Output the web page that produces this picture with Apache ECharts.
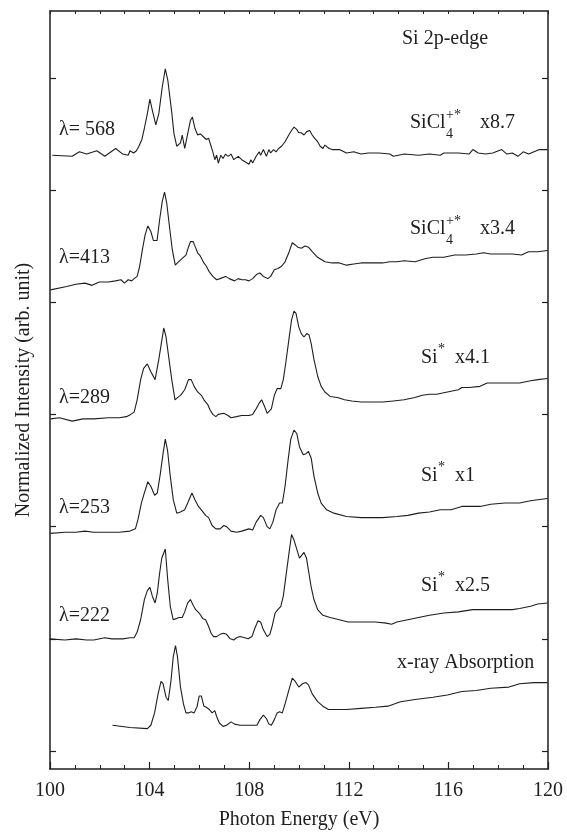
<!DOCTYPE html>
<html>
<head>
<meta charset="utf-8">
<script src="https://cdn.jsdelivr.net/npm/echarts@6/dist/echarts.min.js"></script>
<style>
  html, body { margin: 0; padding: 0; background: #fff; }
  #chart { width: 567px; height: 837px; }
</style>
</head>
<body>
<div id="chart"></div>
<script>
// spectra, [photon energy (eV), intensity (arb., offset per trace)]
const curve568 = [[100.09,5.31],[100.89,5.30],[101.18,5.34],[101.47,5.32],[101.88,5.35],[102.20,5.30],[102.64,5.37],[102.92,5.32],[103.14,5.31],[103.21,5.35],[103.36,5.33],[103.47,5.35],[103.57,5.39],[103.69,5.45],[103.79,5.55],[103.91,5.68],[104.01,5.81],[104.11,5.71],[104.25,5.58],[104.37,5.68],[104.51,5.92],[104.63,6.08],[104.73,5.98],[104.88,5.71],[104.98,5.50],[105.09,5.39],[105.24,5.42],[105.31,5.49],[105.41,5.37],[105.53,5.50],[105.64,5.62],[105.72,5.65],[105.82,5.55],[105.93,5.49],[106.04,5.50],[106.18,5.47],[106.28,5.45],[106.37,5.46],[106.47,5.39],[106.54,5.34],[106.62,5.27],[106.69,5.31],[106.76,5.24],[106.86,5.31],[106.95,5.28],[107.05,5.32],[107.15,5.30],[107.27,5.32],[107.38,5.27],[107.56,5.30],[107.70,5.27],[107.85,5.25],[107.99,5.23],[108.07,5.27],[108.14,5.24],[108.28,5.30],[108.40,5.34],[108.46,5.31],[108.57,5.36],[108.69,5.30],[108.79,5.36],[108.86,5.33],[108.98,5.36],[109.08,5.34],[109.18,5.37],[109.30,5.39],[109.44,5.43],[109.59,5.49],[109.70,5.53],[109.80,5.56],[109.91,5.54],[109.99,5.51],[110.09,5.51],[110.20,5.49],[110.31,5.52],[110.43,5.53],[110.53,5.49],[110.63,5.46],[110.75,5.43],[110.85,5.39],[110.96,5.37],[111.04,5.40],[111.12,5.41],[111.21,5.37],[111.33,5.36],[111.62,5.36],[111.91,5.33],[112.20,5.34],[112.49,5.32],[112.78,5.33],[113.21,5.33],[113.65,5.32],[113.79,5.30],[114.23,5.32],[114.80,5.31],[115.24,5.32],[115.67,5.31],[115.82,5.33],[116.40,5.33],[116.83,5.32],[116.98,5.36],[117.20,5.33],[117.49,5.32],[117.78,5.33],[118.14,5.36],[118.35,5.32],[118.57,5.33],[118.79,5.30],[119.01,5.34],[119.22,5.32],[119.44,5.34],[119.66,5.36],[119.98,5.36]];

const curve413 = [[100.02,4.11],[100.67,4.14],[101.04,4.16],[101.40,4.17],[101.69,4.15],[101.98,4.18],[102.34,4.18],[102.63,4.19],[102.85,4.20],[102.99,4.17],[103.14,4.20],[103.28,4.19],[103.38,4.21],[103.50,4.23],[103.60,4.32],[103.72,4.48],[103.82,4.60],[103.93,4.68],[104.05,4.63],[104.15,4.55],[104.30,4.55],[104.40,4.73],[104.51,4.90],[104.60,4.98],[104.69,4.88],[104.80,4.67],[104.91,4.47],[105.03,4.33],[105.16,4.36],[105.31,4.39],[105.46,4.42],[105.56,4.49],[105.64,4.54],[105.75,4.54],[105.82,4.50],[105.93,4.44],[106.04,4.41],[106.18,4.35],[106.28,4.32],[106.40,4.27],[106.54,4.23],[106.69,4.20],[106.83,4.21],[107.05,4.23],[107.20,4.21],[107.41,4.19],[107.56,4.21],[107.70,4.20],[107.85,4.20],[107.99,4.19],[108.14,4.21],[108.31,4.25],[108.43,4.26],[108.57,4.23],[108.75,4.21],[108.86,4.23],[109.01,4.29],[109.15,4.30],[109.30,4.32],[109.44,4.36],[109.59,4.44],[109.73,4.53],[109.85,4.51],[109.95,4.49],[110.09,4.48],[110.24,4.50],[110.38,4.49],[110.53,4.45],[110.75,4.40],[111.04,4.36],[111.33,4.35],[111.62,4.35],[111.91,4.33],[112.20,4.34],[112.49,4.35],[112.92,4.35],[113.36,4.35],[113.65,4.36],[113.93,4.36],[114.22,4.37],[114.66,4.36],[115.09,4.39],[115.38,4.40],[115.82,4.40],[116.25,4.42],[116.69,4.42],[117.12,4.43],[117.41,4.44],[117.70,4.43],[118.14,4.43],[118.57,4.43],[118.93,4.42],[119.22,4.45],[119.59,4.45],[119.98,4.46]];

const curve289 = [[100.02,2.96],[100.38,2.97],[100.89,2.94],[101.33,2.96],[101.76,2.96],[102.34,2.97],[102.78,2.97],[103.07,2.98],[103.24,3.00],[103.38,3.02],[103.50,3.13],[103.64,3.31],[103.76,3.41],[103.91,3.45],[104.05,3.38],[104.22,3.31],[104.37,3.49],[104.49,3.66],[104.57,3.77],[104.66,3.69],[104.78,3.49],[104.89,3.31],[105.02,3.13],[105.12,3.15],[105.24,3.17],[105.31,3.16],[105.41,3.22],[105.56,3.31],[105.67,3.31],[105.79,3.25],[105.93,3.20],[106.08,3.17],[106.18,3.13],[106.33,3.09],[106.43,3.04],[106.54,3.00],[106.66,2.98],[106.76,3.00],[106.98,3.01],[107.15,2.99],[107.27,2.97],[107.49,2.98],[107.70,2.99],[107.99,2.99],[108.14,3.00],[108.28,3.05],[108.40,3.10],[108.50,3.13],[108.60,3.08],[108.72,3.01],[108.80,3.00],[108.89,3.05],[109.01,3.17],[109.12,3.23],[109.27,3.23],[109.37,3.31],[109.47,3.46],[109.59,3.66],[109.70,3.84],[109.80,3.92],[109.88,3.90],[109.99,3.78],[110.09,3.72],[110.20,3.69],[110.31,3.72],[110.40,3.71],[110.49,3.63],[110.60,3.49],[110.75,3.34],[110.89,3.25],[111.04,3.20],[111.25,3.16],[111.54,3.15],[111.83,3.13],[112.12,3.12],[112.49,3.11],[112.92,3.11],[113.36,3.11],[113.79,3.12],[114.22,3.13],[114.66,3.15],[114.95,3.17],[115.24,3.18],[115.53,3.18],[115.96,3.20],[116.40,3.22],[116.54,3.24],[116.83,3.24],[117.27,3.25],[117.56,3.28],[117.99,3.28],[118.43,3.28],[118.86,3.28],[119.30,3.30],[119.59,3.31],[119.98,3.32]];

const curve253 = [[100.02,1.94],[100.60,1.95],[101.04,1.95],[101.40,1.96],[101.76,1.95],[102.34,1.95],[102.78,1.95],[103.21,1.96],[103.43,1.98],[103.53,2.06],[103.67,2.21],[103.79,2.30],[103.93,2.40],[104.05,2.36],[104.20,2.28],[104.31,2.30],[104.43,2.47],[104.54,2.65],[104.63,2.78],[104.72,2.68],[104.83,2.45],[104.95,2.24],[105.09,2.12],[105.24,2.13],[105.41,2.15],[105.53,2.21],[105.70,2.30],[105.82,2.24],[105.96,2.18],[106.11,2.14],[106.25,2.10],[106.37,2.08],[106.51,2.01],[106.66,1.98],[106.83,1.98],[106.98,2.01],[107.09,2.00],[107.27,1.96],[107.49,1.95],[107.70,1.96],[107.99,1.98],[108.14,1.97],[108.28,2.04],[108.46,2.10],[108.57,2.08],[108.72,2.00],[108.83,1.98],[108.95,2.04],[109.08,2.15],[109.22,2.21],[109.33,2.21],[109.44,2.36],[109.56,2.59],[109.67,2.78],[109.80,2.86],[109.91,2.83],[110.02,2.71],[110.17,2.64],[110.28,2.65],[110.38,2.67],[110.49,2.61],[110.60,2.45],[110.75,2.30],[110.89,2.21],[111.11,2.15],[111.40,2.12],[111.91,2.09],[112.49,2.08],[113.36,2.08],[113.93,2.09],[114.37,2.10],[114.80,2.12],[115.24,2.13],[115.67,2.15],[116.11,2.15],[116.54,2.18],[116.83,2.18],[117.27,2.18],[117.70,2.20],[118.28,2.21],[118.86,2.21],[119.30,2.23],[119.59,2.24],[119.98,2.25]];

const curve222 = [[99.98,1.00],[100.60,0.99],[101.04,1.00],[101.47,0.99],[101.76,0.99],[102.20,1.01],[102.49,1.00],[102.92,1.00],[103.21,1.01],[103.38,1.01],[103.50,1.06],[103.64,1.17],[103.79,1.35],[103.91,1.43],[104.01,1.46],[104.11,1.38],[104.22,1.32],[104.31,1.41],[104.40,1.58],[104.49,1.72],[104.63,1.80],[104.73,1.52],[104.83,1.29],[104.95,1.17],[105.07,1.18],[105.17,1.19],[105.31,1.19],[105.41,1.24],[105.53,1.32],[105.64,1.35],[105.75,1.30],[105.85,1.26],[105.99,1.23],[106.14,1.18],[106.25,1.17],[106.37,1.11],[106.47,1.05],[106.57,1.02],[106.69,1.02],[106.83,1.04],[106.98,1.05],[107.09,1.04],[107.24,1.00],[107.38,0.99],[107.49,1.01],[107.63,1.02],[107.82,1.01],[107.96,1.00],[108.11,1.02],[108.22,1.09],[108.35,1.16],[108.46,1.15],[108.57,1.08],[108.72,1.02],[108.83,1.04],[108.93,1.12],[109.04,1.23],[109.15,1.26],[109.27,1.29],[109.37,1.38],[109.47,1.55],[109.59,1.75],[109.70,1.93],[109.80,1.88],[110.02,1.72],[110.20,1.77],[110.30,1.72],[110.38,1.61],[110.49,1.46],[110.60,1.35],[110.75,1.26],[110.96,1.21],[111.25,1.19],[111.62,1.17],[111.98,1.15],[112.49,1.15],[113.07,1.15],[113.50,1.14],[113.72,1.13],[113.93,1.15],[114.37,1.17],[114.80,1.19],[115.24,1.21],[115.82,1.23],[116.40,1.24],[116.98,1.26],[117.41,1.26],[117.99,1.26],[118.57,1.26],[118.86,1.27],[119.30,1.29],[119.59,1.31],[119.98,1.32]];

const xrayAbs = [[102.51,0.23],[103.21,0.21],[103.91,0.20],[104.05,0.23],[104.20,0.34],[104.34,0.51],[104.46,0.62],[104.54,0.60],[104.66,0.48],[104.75,0.45],[104.86,0.63],[104.95,0.84],[105.04,0.94],[105.12,0.84],[105.24,0.57],[105.36,0.42],[105.46,0.34],[105.56,0.34],[105.67,0.35],[105.79,0.34],[105.91,0.40],[105.99,0.49],[106.08,0.49],[106.18,0.40],[106.28,0.39],[106.40,0.37],[106.51,0.34],[106.62,0.36],[106.69,0.31],[106.80,0.25],[106.95,0.22],[107.09,0.23],[107.27,0.26],[107.41,0.24],[107.63,0.23],[107.99,0.23],[108.31,0.23],[108.43,0.28],[108.57,0.32],[108.69,0.29],[108.79,0.24],[108.89,0.23],[109.01,0.28],[109.12,0.34],[109.22,0.35],[109.33,0.34],[109.44,0.42],[109.59,0.54],[109.73,0.65],[109.85,0.62],[109.99,0.57],[110.14,0.60],[110.28,0.61],[110.38,0.59],[110.53,0.51],[110.75,0.44],[110.96,0.40],[111.18,0.37],[111.91,0.37],[112.49,0.38],[113.07,0.39],[113.57,0.40],[114.08,0.44],[114.66,0.46],[115.38,0.48],[115.96,0.50],[116.54,0.53],[117.12,0.54],[117.70,0.56],[118.43,0.57],[118.86,0.60],[119.44,0.61],[119.98,0.61]];

const yTicks = [0, 1, 2, 3, 4, 5, 6];
const lambdaLabels = ['λ= 568', 'λ=413', 'λ=289', 'λ=253', 'λ=222'];
const scaleLabels = ['x8.7', 'x3.4', 'x4.1', 'x1', 'x2.5'];

const chart = echarts.init(document.getElementById('chart'));
const FONT = '"Liberation Serif", "Times New Roman", serif';
const INK = '#1e1e1e';

function txt(x, y, s, size) {
  return {
    type: 'text', x: x, y: y, silent: true,
    style: { text: s, font: (size || 20) + 'px ' + FONT, fill: INK, textAlign: 'left', textVerticalAlign: 'middle' }
  };
}

const lambdaY = [130, 258, 398, 508, 616];
const graphics = [txt(402, 39, 'Si 2p-edge')];
lambdaLabels.forEach((s, i) => graphics.push(txt(59, lambdaY[i], s)));
// SiCl4+* labels
[[123, 0], [229, 1]].forEach(([y, i]) => {
  graphics.push(txt(410, y, 'SiCl'));
  graphics.push(txt(446, y + 11, '4', 14));
  graphics.push(txt(446, y - 8, '+*', 14));
  graphics.push(txt(480, y, scaleLabels[i]));
});
// Si* labels
[[358, 2], [476, 3], [586, 4]].forEach(([y, i]) => {
  graphics.push(txt(421, y, 'Si'));
  graphics.push(txt(438, y - 9, '*', 14));
  graphics.push(txt(455, y, scaleLabels[i]));
});
graphics.push(txt(397, 663, 'x-ray Absorption'));

const lineSeries = [curve568, curve413, curve289, curve253, curve222, xrayAbs].map(d => ({
  type: 'line',
  data: d,
  showSymbol: false,
  smooth: false,
  lineStyle: { color: INK, width: 1.1 },
  silent: true
}));

const yBase = {
  type: 'value', min: -0.16, max: 6.595,
  axisLine: { show: true, onZero: false, lineStyle: { color: INK, width: 1.5 } },
  axisTick: { show: true, inside: true, length: 6, customValues: yTicks, lineStyle: { color: INK, width: 1.2 } },
  axisLabel: { show: false },
  splitLine: { show: false }
};

chart.setOption({
  animation: false,
  backgroundColor: '#fff',
  grid: { left: 50, right: 19, top: 11, bottom: 68 },
  xAxis: [
    {
      type: 'value', min: 100, max: 120, interval: 4, position: 'bottom',
      name: 'Photon Energy (eV)', nameLocation: 'middle', nameGap: 41,
      nameTextStyle: { fontFamily: FONT, fontSize: 20, color: INK },
      axisLine: { onZero: false, lineStyle: { color: INK, width: 1.6 } },
      axisTick: { inside: true, length: 7, lineStyle: { color: INK, width: 1.2 } },
      minorTick: { show: true, splitNumber: 4, length: 4, lineStyle: { color: INK, width: 1 } },
      axisLabel: { fontFamily: FONT, fontSize: 20, color: INK, margin: 12 },
      splitLine: { show: false }, minorSplitLine: { show: false }
    },
    {
      type: 'value', min: 100, max: 120, interval: 1, position: 'top',
      axisLine: { onZero: false, lineStyle: { color: INK, width: 1.5 } },
      axisTick: { inside: true, length: 3, lineStyle: { color: INK, width: 1 } },
      axisLabel: { show: false },
      splitLine: { show: false }
    }
  ],
  yAxis: [
    Object.assign({}, yBase, {
      position: 'left',
      name: 'Normalized Intensity (arb. unit)', nameLocation: 'middle', nameGap: 16,
      nameTextStyle: { fontFamily: FONT, fontSize: 20, color: INK }
    }),
    Object.assign({}, yBase, { position: 'right' })
  ],
  series: lineSeries,
  graphic: graphics
});
</script>
</body>
</html>
